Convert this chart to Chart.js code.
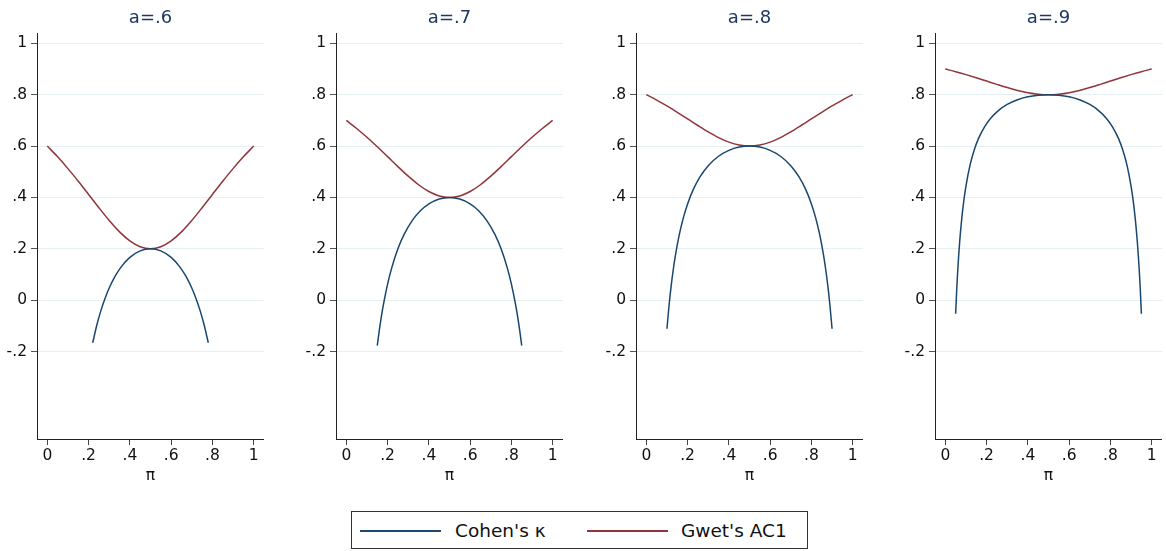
<!DOCTYPE html>
<html>
<head>
<meta charset="utf-8">
<script src="https://cdn.jsdelivr.net/npm/chart.js@4/dist/chart.umd.min.js"></script>
<style>
  html, body { margin:0; padding:0; background:#fff; }
  body { width:1166px; height:551px; position:relative; overflow:hidden; font-family:"DejaVu Sans", sans-serif; }
  .panel { position:absolute; top:0; }
  #legend { position:absolute; left:351px; top:511px; width:457px; height:38px; border:1px solid #333; box-sizing:border-box; }
  .lline { position:absolute; top:18px; height:2px; }
  .ltext { position:absolute; top:8px; font-size:18.5px; color:#111; line-height:22px; white-space:nowrap; }
</style>
</head>
<body>
<div class="panel" style="left:1px"><canvas id="c0" width="263" height="490"></canvas></div>
<div class="panel" style="left:300px"><canvas id="c1" width="263" height="490"></canvas></div>
<div class="panel" style="left:600px"><canvas id="c2" width="263" height="490"></canvas></div>
<div class="panel" style="left:899px"><canvas id="c3" width="263" height="490"></canvas></div>
<div id="legend">
  <div class="lline" style="left:8px;width:81px;background:#1a476f"></div>
  <div class="ltext" style="left:103px">Cohen's κ</div>
  <div class="lline" style="left:235px;width:81px;background:#90353b"></div>
  <div class="ltext" style="left:329px">Gwet's AC1</div>
</div>
<script>
// ---- data ----
const panelTitles = ["a=.6", "a=.7", "a=.8", "a=.9"];
const xTicks = [0, 0.2, 0.4, 0.6, 0.8, 1];
const yTicks = [-0.2, 0, 0.2, 0.4, 0.6, 0.8, 1];

const piAC1 = [0,.05,.1,.15,.2,.25,.3,.35,.4,.45,.5,.55,.6,.65,.7,.75,.8,.85,.9,.95,1];
const ac1_6 = [.6,.558,.5122,.4631,.4118,.36,.3103,.2661,.2308,.2079,.2,.2079,.2308,.2661,.3103,.36,.4118,.4631,.5122,.558,.6];
const ac1_7 = [.7,.6685,.6341,.5973,.5588,.52,.4828,.4495,.4231,.4059,.4,.4059,.4231,.4495,.4828,.52,.5588,.5973,.6341,.6685,.7];
const ac1_8 = [.8,.779,.7561,.7315,.7059,.68,.6552,.633,.6154,.604,.6,.604,.6154,.633,.6552,.68,.7059,.7315,.7561,.779,.8];
const ac1_9 = [.9,.8895,.878,.8658,.8529,.84,.8276,.8165,.8077,.802,.8,.802,.8077,.8165,.8276,.84,.8529,.8658,.878,.8895,.9];

const piK6 = [.22,.24,.26,.28,.30,.33,.36,.40,.45,.50,.55,.60,.64,.67,.70,.72,.74,.76,.78];
const kappa6 = [-.1655,-.0965,-.0395,.0079,.0476,.0954,.1319,.1667,.1919,.2,.1919,.1667,.1319,.0954,.0476,.0079,-.0395,-.0965,-.1655];

const piK7 = [.15,.16,.17,.18,.20,.22,.25,.28,.32,.36,.40,.45,.50,.55,.60,.64,.68,.72,.75,.78,.80,.82,.83,.84,.85];
const kappa7 = [-.1765,-.1161,-.0631,-.0163,.0625,.1259,.2,.256,.3107,.349,.375,.3939,.4,.3939,.375,.349,.3107,.256,.2,.1259,.0625,-.0163,-.0631,-.1161,-.1765];

const piK8 = [.10,.11,.12,.13,.14,.16,.18,.20,.23,.26,.30,.35,.40,.45,.50,.55,.60,.65,.70,.74,.77,.80,.82,.84,.86,.87,.88,.89,.90];
const kappa8 = [-.1111,-.0215,.053,.1158,.1694,.256,.3225,.375,.4353,.4802,.5238,.5604,.5833,.596,.6,.596,.5833,.5604,.5238,.4802,.4353,.375,.3225,.256,.1694,.1158,.053,-.0215,-.1111];

const piK9 = [.05,.055,.06,.065,.07,.08,.09,.10,.12,.14,.16,.19,.22,.26,.30,.35,.40,.45,.50,.55,.60,.65,.70,.74,.78,.81,.84,.86,.88,.90,.91,.92,.93,.935,.94,.945,.95];
const kappa9 = [-.0526,.038,.1135,.1773,.232,.3207,.3895,.4444,.5265,.5847,.628,.6751,.7086,.7401,.7619,.7802,.7917,.798,.8,.798,.7917,.7802,.7619,.7401,.7086,.6751,.628,.5847,.5265,.4444,.3895,.3207,.232,.1773,.1135,.038,-.0526];

// ---- build ----
const ac1Series = [ac1_6, ac1_7, ac1_8, ac1_9];
const kPi = [piK6, piK7, piK8, piK9];
const kSeries = [kappa6, kappa7, kappa8, kappa9];

const FONT = '"DejaVu Sans", sans-serif';
const BLUE = '#1a476f', RED = '#90353b';

function fmt(v) {
  const r = Math.round(v * 10) / 10;
  if (r === 0) return '0';
  if (r === 1) return '1';
  return String(r).replace('0.', '.');
}
function pairs(xs, ys) { return xs.map((x, i) => ({ x: x, y: ys[i] })); }

const titlePlugin = {
  id: 'panelTitle',
  afterDraw(chart) {
    const ctx = chart.ctx, a = chart.chartArea;
    ctx.save();
    ctx.font = '18px ' + FONT;
    ctx.fillStyle = '#1e3764';
    ctx.textAlign = 'center';
    ctx.textBaseline = 'middle';
    ctx.fillText(chart.options.plugins.panelTitle.text, (a.left + a.right) / 2, 18);
    ctx.restore();
  }
};

for (let i = 0; i < 4; i++) {
  new Chart(document.getElementById('c' + i), {
    type: 'line',
    data: {
      datasets: [
        { label: "Cohen's κ", data: pairs(kPi[i], kSeries[i]), borderColor: BLUE, borderWidth: 1.5,
          pointRadius: 0, cubicInterpolationMode: 'monotone', fill: false },
        { label: "Gwet's AC1", data: pairs(piAC1, ac1Series[i]), borderColor: RED, borderWidth: 1.5,
          pointRadius: 0, cubicInterpolationMode: 'monotone', fill: false }
      ]
    },
    options: {
      responsive: false,
      devicePixelRatio: 1,
      animation: false,
      layout: { padding: { top: 33, left: 0, right: 0, bottom: 0 } },
      plugins: {
        legend: { display: false },
        tooltip: { enabled: false },
        panelTitle: { text: panelTitles[i] }
      },
      scales: {
        x: {
          type: 'linear', min: -0.05, max: 1.05,
          afterBuildTicks: s => { s.ticks = xTicks.map(v => ({ value: v })); },
          afterFit: s => { s.height = 51; },
          ticks: { autoSkip: false, maxRotation: 0, padding: 2, color: '#111',
                   font: { family: FONT, size: 15.5 }, callback: v => fmt(v) },
          grid: { drawOnChartArea: false, drawTicks: true, tickLength: 6, tickColor: '#444' },
          border: { display: true, color: '#222', width: 1 },
          title: { display: true, text: 'π', color: '#111', font: { family: FONT, size: 15.5 },
                   padding: { top: 0, bottom: 5 } }
        },
        y: {
          type: 'linear', min: -0.54, max: 1.04,
          afterBuildTicks: s => { s.ticks = yTicks.map(v => ({ value: v })); },
          afterFit: s => { s.width = 36; },
          ticks: { autoSkip: false, padding: 4, color: '#111',
                   font: { family: FONT, size: 15.5 }, callback: v => fmt(v) },
          grid: { color: '#e6eff1', lineWidth: 1, drawTicks: true, tickLength: 6, tickColor: '#555' },
          border: { display: true, color: '#222', width: 1 }
        }
      }
    },
    plugins: [titlePlugin]
  });
}
</script>
</body>
</html>
